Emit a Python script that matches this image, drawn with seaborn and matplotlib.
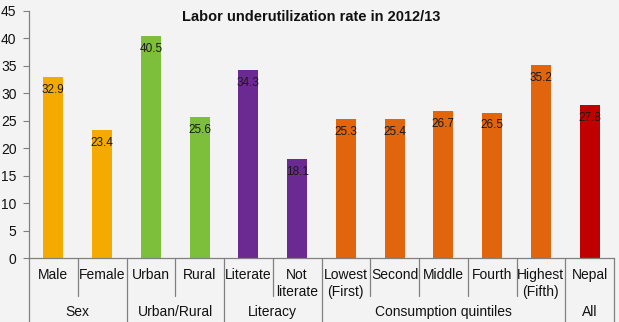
import matplotlib
matplotlib.use("Agg")
import matplotlib.pyplot as plt
import matplotlib.transforms as mtransforms
import pandas as pd
import seaborn as sns

# Data
categories = ["Male", "Female", "Urban", "Rural", "Literate", "Not\nliterate",
              "Lowest\n(First)", "Second", "Middle", "Fourth", "Highest\n(Fifth)", "Nepal"]
values = [32.9, 23.4, 40.5, 25.6, 34.3, 18.1, 25.3, 25.4, 26.7, 26.5, 35.2, 27.8]
groups = ["Sex", "Sex", "Urban/Rural", "Urban/Rural", "Literacy", "Literacy",
          "Consumption quintiles", "Consumption quintiles", "Consumption quintiles",
          "Consumption quintiles", "Consumption quintiles", "All"]
group_names = ["Sex", "Urban/Rural", "Literacy", "Consumption quintiles", "All"]
group_colors = ["#F4AA00", "#7DBE3A", "#6B2A92", "#E0650C", "#C00000"]
y_ticks = list(range(0, 46, 5))

bg = "#F3F3F3"
sns.set_theme(style="white")
plt.rcParams["font.family"] = ["Liberation Sans", "DejaVu Sans"]

df = pd.DataFrame({"category": categories, "value": values, "group": groups})

fig = plt.figure(figsize=(6.19, 3.22), dpi=100, facecolor=bg)
ax = fig.add_axes([29 / 619, 1 - 258 / 322, 585 / 619, 247 / 322])
ax.set_facecolor(bg)

sns.barplot(data=df, x="category", y="value", hue="group",
            palette=dict(zip(group_names, group_colors)),
            dodge=False, width=0.41, legend=False, ax=ax, saturation=1,
            linewidth=0)

ax.set_xlim(-0.5, len(categories) - 0.5)
ax.set_ylim(0, 45)
ax.set_yticks(y_ticks)
ax.tick_params(axis="y", left=True, length=4, width=0.8, color="#808080",
               labelsize=10, labelcolor="#111111", pad=5)
ax.set_xticks([])
ax.set_xlabel("")
ax.set_ylabel("")
for s in ["top", "right"]:
    ax.spines[s].set_visible(False)
for s in ["left", "bottom"]:
    ax.spines[s].set_color("#808080")
    ax.spines[s].set_linewidth(0.9)

# Value labels just inside the top of each bar
for i, v in enumerate(values):
    ax.annotate(f"{v}", (i, v), xytext=(0, -5), textcoords="offset points",
                ha="center", va="top", fontsize=8.5, color="#1a1a1a")

# Category and group labels under the axis with separator lines
trans = mtransforms.blended_transform_factory(ax.transData, ax.transAxes)
inner_bottom = -38 / 247
outer_bottom = -64 / 247
line_kw = dict(color="#808080", lw=0.9, transform=trans, clip_on=False)

for i, c in enumerate(categories):
    ax.text(i, -10 / 247, c, transform=trans, ha="center", va="top",
            fontsize=10, color="#111111", linespacing=1.3)

bounds = [-0.5]
for i in range(1, len(groups)):
    if groups[i] != groups[i - 1]:
        bounds.append(i - 0.5)
    else:
        ax.plot([i - 0.5, i - 0.5], [0, inner_bottom], **line_kw)
bounds.append(len(groups) - 0.5)
for b in bounds:
    ax.plot([b, b], [0, outer_bottom], **line_kw)
for g, (a, b) in zip(group_names, zip(bounds[:-1], bounds[1:])):
    ax.text((a + b) / 2, -54 / 247, g, transform=trans, ha="center",
            va="center", fontsize=10, color="#111111")

fig.text(311 / 619, 1 - 17 / 322, "Labor underutilization rate in 2012/13",
         ha="center", va="center", fontsize=10.5, fontweight="bold", color="#111111")

fig.savefig("out.png", dpi=100, facecolor=bg)
